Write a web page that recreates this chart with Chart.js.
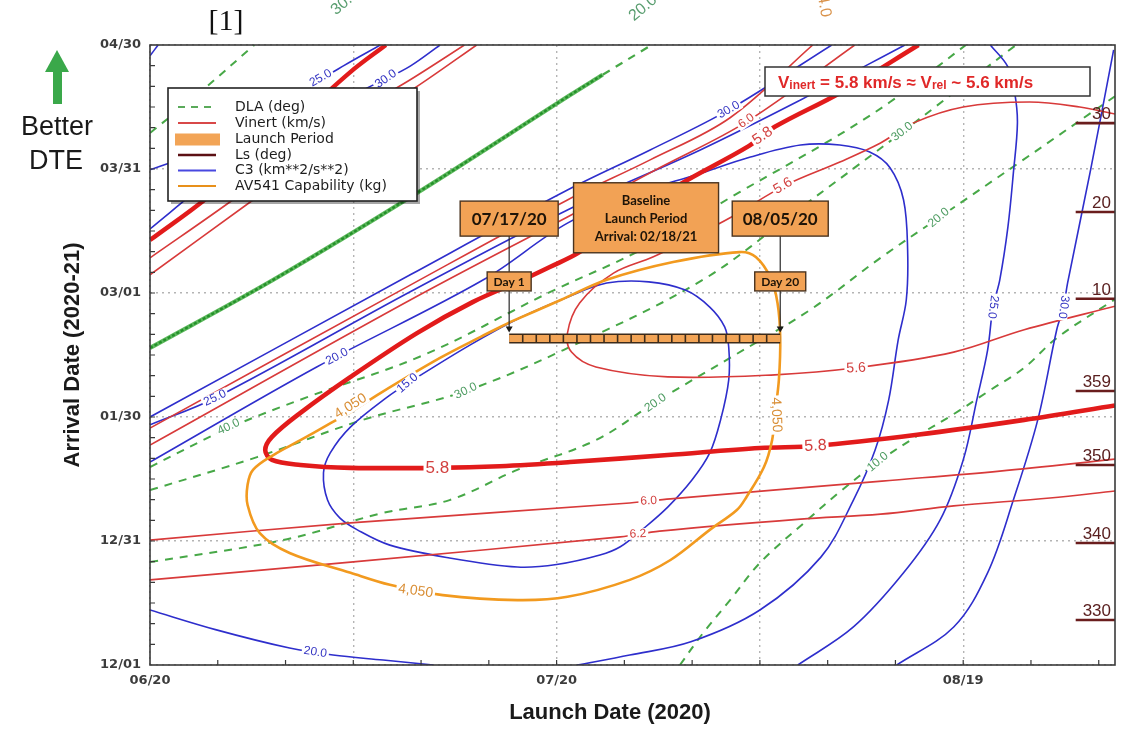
<!DOCTYPE html>
<html>
<head>
<meta charset="utf-8">
<script src="https://cdn.jsdelivr.net/npm/chart.js@4.4.1/dist/chart.umd.min.js"></script>
<style>
  html, body { margin: 0; padding: 0; background: #ffffff; }
  canvas { display: block; }
</style>
</head>
<body>
<canvas id="porkchop" width="1122" height="729"></canvas>
<script>
// ---- axes: launch day counted from 06/20/2020, arrival day counted from 12/01/2020 ----
const xTickDays = [0, 30, 60];
const xTickLabels = ['06/20', '07/20', '08/19'];
const yTickDays = [0, 30, 60, 90, 120, 150];
const yTickLabels = ['12/01', '12/31', '01/30', '03/01', '03/31', '04/30'];

// ---- DLA contours (deg) ----
const dla50 = [[0,128.7],[3.7,138.6],[7.7,150]];
const dlaRidge = [[0,76.7],[9.1,93.2],[19.7,114.2],[31.0,137.9],[33.4,142.8]];
const dlaRidgeTail = [[33.4,142.8],[37.0,150]];
const dla40 = [[0,47.9],[5.8,57.3],[11.6,64.8],[20.2,75.0],[29.5,90.2],[36.2,100.4],[43.5,114.4],[50.2,127.0],[54.6,136.2],[60.2,150]];
const dla30 = [[0,42.3],[7.9,50.3],[15.7,59.3],[23.3,66.3],[30.5,76.2],[40.8,93.2],[48.0,110.6],[55.4,128.7],[63.9,150]];
const dla20 = [[0,24.9],[9.8,30.2],[17.2,36.8],[22.1,39.9],[27.1,47.2],[32.9,54.4],[37.3,63.6],[42.9,74.5],[48.7,85.9],[53.9,98.5],[58.2,108.2],[64.2,121.7],[71.2,137.6]];
const dla10 = [[39.1,0],[40.8,7.7],[42.8,15.7],[45.0,24.7],[48.5,35.1],[50.9,41.9],[53.7,49.1],[56.6,55.4],[59.3,60.7],[61.9,66.3],[64.5,71.9],[66.9,79.1],[71.2,88.5]];

// ---- Vinert contours (km/s) ----
const vinert58 = [[56.7,150],[50.9,138.4],[46.1,130.2],[44.2,125.6],[39.0,116.1],[35.4,108.2],[31.6,99.7],[29.5,96.3],[27.5,93.2],[23.8,87.8],[19.7,80.3],[14.8,69.7],[11.1,61.0],[9.0,55.2],[8.5,52.0],[9.0,49.6],[11.1,48.4],[14.8,47.7],[21.2,47.7],[25.8,48.1],[31.0,49.1],[38.2,50.8],[45.0,52.5],[49.1,53.0],[56.6,55.7],[64.5,59.3],[71.2,62.8]];
const vinert58Upper = [[0,102.8],[4.2,113.0],[9.6,128.2],[14.8,143.5],[17.4,150]];
const vinert56 = [[71.2,133.3],[68.6,135.0],[64.9,136.2],[60.0,135.0],[56.3,131.1],[53.9,126.3],[50.9,121.7],[46.9,116.1],[42.8,108.2],[40.1,103.6],[37.1,98.7],[34.2,94.8],[31.7,87.6],[30.8,80.3],[31.1,75.7],[32.9,72.1],[38.2,69.7],[46.1,70.2],[52.1,71.9],[59.3,75.7],[64.5,81.1],[71.2,86.8]];
const vinert60Band = [[0,53.2],[19.2,88.3],[30.8,108.4],[37.6,120.3],[44.0,131.4],[52.0,150]];
const vinert62Band = [[0,57.3],[19.2,91.9],[30.8,112.5],[36.9,122.2],[42.8,132.4],[48.9,150]];
const vinert60Low = [[0,30.2],[14.8,34.4],[35.4,39.2],[38.4,40.2],[54.0,44.5],[62.7,46.9],[71.2,49.8]];
const vinert62Low = [[0,20.6],[14.8,24.9],[34.7,31.0],[37.6,32.4],[48.0,35.3],[53.9,36.5],[59.3,38.5],[66.4,40.4],[71.2,42.1]];
const vinertUpperA = [[0,98.5],[6.1,112.5],[13.3,130.0],[19.2,141.6],[23.2,150]];
const vinertUpperB = [[0,94.4],[7.6,112.5],[14.8,129.5],[19.9,140.4],[24.1,150]];

// ---- C3 contours (km^2/s^2) ----
const c3Corner = [[0,147.4],[0.6,150]];
const c3Upper30 = [[0,119.8],[1.5,121.5],[7.4,128.2],[13.3,135.5],[17.2,141.5],[19.2,144.9],[21.4,150]];
const c3Upper25 = [[0,105.5],[4.2,117.0],[9.6,133.0],[12.6,141.5],[14.3,145.0],[17.0,150]];
const c3Band30 = [[0,60.0],[19.2,94.4],[30.8,114.9],[36.9,124.6],[42.7,134.3],[50.3,150]];
const c3Band25 = [[0,58.1],[4.8,64.6],[19.2,90.3],[30.8,110.1],[40.6,124.6],[48.0,136.7],[55.7,150]];
const c3Loop20 = [[0,49.1],[12.3,72.1],[24.6,93.2],[30.8,106.9],[36.2,114.4],[40.3,118.6],[44.3,122.9],[48.0,125.8],[50.9,125.8],[53.1,124.1],[54.6,120.3],[55.6,112.5],[55.9,100.4],[55.8,88.3],[55.2,78.6],[54.5,64.1],[53.5,52.0],[51.9,39.9],[49.5,26.1],[45.0,13.3],[39.9,5.6],[35.4,2.4],[31.5,0]];
const c3Low20 = [[0,13.3],[4.9,8.5],[10.3,4.1],[13.5,2.4],[17.2,1.2],[20.9,0]];
const c3Ring15 = [[19.4,69.0],[17.5,64.8],[14.8,57.6],[13.3,51.3],[12.8,46.5],[13.1,39.9],[14.0,35.6],[15.3,32.7],[17.7,29.0],[22.1,25.9],[27.1,23.7],[30.0,24.3],[33.2,26.6],[34.7,28.6],[36.3,32.7],[38.2,38.2],[40.0,44.8],[41.3,51.3],[42.1,59.3],[42.7,69.0],[42.7,76.9],[42.4,81.8],[41.3,86.6],[39.5,90.7],[36.8,92.7],[33.7,92.4],[30.8,89.0],[27.3,84.0],[23.6,77.4],[19.4,69.0]];
const c3Right25 = [[47.8,0],[51.9,9.2],[55.6,22.3],[58.3,35.1],[60.0,49.6],[61.0,64.1],[61.8,76.2],[62.2,86.6],[62.7,93.2],[63.3,106.0],[63.7,119.0],[64.0,131.1],[63.8,138.4],[63.3,144.7],[62.0,150]];
const c3Right30 = [[55.1,0],[59.3,9.2],[61.8,22.3],[63.7,39.9],[65.5,59.3],[66.9,81.1],[67.4,86.6],[67.7,92.4],[69.4,119.8],[71.1,148.8]];

// ---- AV541 capability contour (kg) ----
const av541_4050 = [[26.6,83.0],[30.3,88.3],[33.7,93.2],[38.6,97.5],[43.5,99.9],[44.7,98.7],[45.8,93.6],[46.3,87.6],[46.5,79.4],[46.4,69.0],[46.1,60.5],[45.9,54.4],[45.3,47.9],[44.0,40.6],[43.3,37.5],[41.3,32.7],[38.4,25.4],[35.4,20.6],[30.8,16.5],[27.1,15.7],[21.6,16.9],[17.7,19.4],[14.8,22.3],[10.3,27.1],[8.1,31.9],[7.2,38.7],[7.2,43.6],[7.6,47.2],[9.1,50.8],[11.1,54.4],[13.1,58.1],[14.8,61.2],[17.0,65.8],[21.4,74.3],[24.4,79.4],[26.6,83.0]];

// ---- baseline launch period: 07/17/20 .. 08/05/20, arrival 02/18/21 ----
const launchPeriodDays = [27,28,29,30,31,32,33,34,35,36,37,38,39,40,41,42,43,44,45,46];
const baselineArrivalDay = 79;

// ---- Ls (deg) at arrival ----
const lsLabels = ['330','340','350','359','10','20','30'];
const lsArrivalDays = [10.9, 29.5, 48.4, 66.3, 88.6, 109.6, 131.1];
const lsStubStart = 68.3;

// ---- contour labels ----
const vinertLabels = [
  { t: '5.8', x: 21.2, y: 47.7, r: 0,   s: 17 },
  { t: '5.8', x: 49.1, y: 53.0, r: -3,  s: 16 },
  { t: '5.8', x: 45.2, y: 128.0, r: -35, s: 15 },
  { t: '6.0', x: 44.0, y: 131.6, r: -35, s: 12 },
  { t: '6.0', x: 36.8, y: 39.7, r: -3,  s: 12 },
  { t: '6.2', x: 36.0, y: 31.7, r: -3,  s: 12 },
  { t: '5.6', x: 52.1, y: 71.8, r: -3,  s: 14 },
  { t: '5.6', x: 46.7, y: 115.9, r: -30, s: 14 }
];
const c3Labels = [
  { t: '25.0', x: 12.6, y: 142.0, r: -30 },
  { t: '30.0', x: 17.4, y: 141.8, r: -35 },
  { t: '25.0', x: 4.8,  y: 64.6,  r: -25 },
  { t: '20.0', x: 13.8, y: 74.6,  r: -28 },
  { t: '15.0', x: 19.0, y: 68.2,  r: -40 },
  { t: '30.0', x: 42.7, y: 134.3, r: -30 },
  { t: '20.0', x: 12.2, y: 3.1,   r: 8 },
  { t: '25.0', x: 62.2, y: 86.6,  r: 98 },
  { t: '30.0', x: 67.4, y: 86.6,  r: 98 }
];
const dlaLabels = [
  { t: '40.0', x: 5.8,  y: 57.6,  r: -25 },
  { t: '30.0', x: 23.3, y: 66.3,  r: -25 },
  { t: '20.0', x: 37.3, y: 63.4,  r: -35 },
  { t: '20.0', x: 58.2, y: 108.2, r: -40 },
  { t: '30.0', x: 55.5, y: 129.0, r: -38 },
  { t: '10.0', x: 53.7, y: 49.1,  r: -40 }
];
const av541Labels = [
  { t: '4,050', x: 14.8, y: 62.6, r: -32 },
  { t: '4,050', x: 46.2, y: 60.5, r: 88 },
  { t: '4,050', x: 19.6, y: 17.9, r: 8 }
];

// ---- callouts anchored on the launch window ----
const callouts = [
  { lines: ['07/17/20'], x: 26.5, y: 108.0, w: 98, h: 35, size: 17 },
  { lines: ['Baseline', 'Launch Period', 'Arrival: 02/18/21'], x: 36.6, y: 108.2, w: 145, h: 70, size: 13 },
  { lines: ['08/05/20'], x: 46.5, y: 108.0, w: 96, h: 35, size: 17 },
  { lines: ['Day 1'], x: 26.5, y: 92.8, w: 44, h: 19, size: 12 },
  { lines: ['Day 20'], x: 46.5, y: 92.8, w: 51, h: 19, size: 12 }
];

// ---- colours ----
const BLUE = '#2e2ecc', RED = '#d83a3a', THICK = '#e21b1b', GREEN = '#47a847',
      ORANGE = '#f29a1f', LSC = '#6a1d1d', BAR = '#f2a456', BAR_EDGE = '#3d2b1a';

const datasets = [];
function addLine(pts, color, width, order, extra) {
  datasets.push(Object.assign({
    data: pts.map(p => ({ x: p[0], y: p[1] })),
    showLine: true, borderColor: color, backgroundColor: color,
    borderWidth: width, pointRadius: 0, tension: 0.35, clip: 0, order: order
  }, extra || {}));
}

// launch period bar (drawn on top)
const barEnds = [[launchPeriodDays[0] - 0.5, baselineArrivalDay], [launchPeriodDays[launchPeriodDays.length - 1] + 0.5, baselineArrivalDay]];
datasets.push({
  data: launchPeriodDays.slice(1).map(d => ({ x: d - 0.5, y: baselineArrivalDay })),
  showLine: false, pointStyle: 'line', rotation: 90, pointRadius: 4,
  pointBorderColor: BAR_EDGE, pointBorderWidth: 1.6, order: 0, clip: 0
});
addLine(barEnds, BAR, 7, 1, { tension: 0, borderCapStyle: 'butt' });
addLine(barEnds, BAR_EDGE, 10, 2, { tension: 0, borderCapStyle: 'butt' });

// Ls stubs on the right edge
lsArrivalDays.forEach(d => addLine([[lsStubStart, d], [71.2, d]], LSC, 2.6, 3, { tension: 0 }));

// AV541
addLine(av541_4050, ORANGE, 2.6, 5);

// Vinert
addLine(vinert58, THICK, 4.6, 6);
addLine(vinert58Upper, THICK, 4.4, 7);
addLine(vinert56, RED, 1.6, 8);
addLine(vinert60Band, RED, 1.6, 8);
addLine(vinert62Band, RED, 1.6, 8);
addLine(vinert60Low, RED, 1.7, 8);
addLine(vinert62Low, RED, 1.7, 8);
addLine(vinertUpperA, RED, 1.6, 8);
addLine(vinertUpperB, RED, 1.6, 8);

// C3
addLine(c3Upper25, BLUE, 1.6, 6);
addLine(c3Corner, BLUE, 1.6, 9);
addLine(c3Upper30, BLUE, 1.6, 9);
addLine(c3Band30, BLUE, 1.6, 9);
addLine(c3Band25, BLUE, 1.6, 9);
addLine(c3Loop20, BLUE, 1.6, 9);
addLine(c3Low20, BLUE, 1.6, 9);
addLine(c3Ring15, BLUE, 1.6, 9);
addLine(c3Right25, BLUE, 1.6, 9);
addLine(c3Right30, BLUE, 1.6, 9);

// DLA
const dash = { borderDash: [8, 7] };
addLine(dla50, GREEN, 2, 10, dash);
addLine(dlaRidge, '#5cb85c', 4.2, 11);
addLine(dlaRidge, '#24902a', 2.4, 10, { borderDash: [3, 2] });
addLine(dlaRidgeTail, GREEN, 2.2, 10, dash);
addLine(dla40, GREEN, 2, 10, dash);
addLine(dla30, GREEN, 2, 10, dash);
addLine(dla20, GREEN, 2, 10, dash);
addLine(dla10, GREEN, 2, 10, dash);

function labelText(ctx, x, y, text, deg, size, color, weight) {
  ctx.save();
  ctx.translate(x, y);
  ctx.rotate(deg * Math.PI / 180);
  ctx.font = (weight || '') + ' ' + size + 'px "Liberation Sans", Arial, sans-serif';
  const w = ctx.measureText(text).width;
  ctx.fillStyle = '#ffffff';
  ctx.fillRect(-w / 2 - 2, -size * 0.45, w + 4, size * 0.9);
  ctx.fillStyle = color;
  ctx.textAlign = 'center';
  ctx.textBaseline = 'middle';
  ctx.fillText(text, 0, 0);
  ctx.restore();
}

const decor = {
  id: 'decor',
  afterDatasetsDraw(chart) {
    const ctx = chart.ctx, xs = chart.scales.x, ys = chart.scales.y, area = chart.chartArea;
    const px = v => xs.getPixelForValue(v), py = v => ys.getPixelForValue(v);

    // contour labels
    vinertLabels.forEach(l => labelText(ctx, px(l.x), py(l.y), l.t, l.r, l.s, '#d2403f'));
    c3Labels.forEach(l => labelText(ctx, px(l.x), py(l.y), l.t, l.r, 12, '#3333c2'));
    dlaLabels.forEach(l => labelText(ctx, px(l.x), py(l.y), l.t, l.r, 12, '#4e9c62'));
    av541Labels.forEach(l => labelText(ctx, px(l.x), py(l.y), l.t, l.r, 14, '#d98e35'));

    // connectors from the date boxes to the ends of the launch bar
    const barTop = py(baselineArrivalDay) - 6;
    [barEnds[0][0], barEnds[1][0]].forEach((d, i) => {
      const c = callouts[i === 0 ? 0 : 2];
      const x = px(d), y0 = py(c.y) + c.h / 2;
      ctx.save();
      ctx.strokeStyle = '#2a2a2a'; ctx.lineWidth = 1.2;
      ctx.beginPath(); ctx.moveTo(x, y0); ctx.lineTo(x, barTop - 4); ctx.stroke();
      ctx.fillStyle = '#1a1a1a';
      ctx.beginPath(); ctx.moveTo(x - 3.5, barTop - 6); ctx.lineTo(x + 3.5, barTop - 6); ctx.lineTo(x, barTop); ctx.closePath(); ctx.fill();
      ctx.restore();
    });

    // callout boxes
    callouts.forEach(c => {
      const cx = px(c.x), cy = py(c.y);
      ctx.save();
      ctx.fillStyle = '#f2a255';
      ctx.strokeStyle = '#4a3420'; ctx.lineWidth = 1.4;
      ctx.fillRect(cx - c.w / 2, cy - c.h / 2, c.w, c.h);
      ctx.strokeRect(cx - c.w / 2, cy - c.h / 2, c.w, c.h);
      ctx.fillStyle = '#1e1408';
      ctx.font = 'bold ' + c.size + 'px Lato, "Open Sans", sans-serif';
      ctx.textAlign = 'center'; ctx.textBaseline = 'middle';
      const lh = c.size * 1.4;
      c.lines.forEach((t, k) => ctx.fillText(t, cx, cy + (k - (c.lines.length - 1) / 2) * lh + 1));
      ctx.restore();
    });

    // Ls labels above the stubs
    ctx.save();
    ctx.font = '17px "Liberation Sans", Arial, sans-serif';
    ctx.fillStyle = '#5a2020';
    ctx.textAlign = 'right'; ctx.textBaseline = 'alphabetic';
    lsArrivalDays.forEach((d, i) => ctx.fillText(lsLabels[i], area.right - 4, py(d) - 4));
    ctx.restore();

    // Vinert note box
    ctx.save();
    const bx = area.left + 615, by = area.top + 22, bw = 325, bh = 29;
    ctx.fillStyle = '#ffffff'; ctx.fillRect(bx, by, bw, bh);
    ctx.strokeStyle = '#333333'; ctx.lineWidth = 1.5; ctx.strokeRect(bx, by, bw, bh);
    ctx.fillStyle = '#e02828'; ctx.textBaseline = 'alphabetic';
    let tx = bx + 13;
    const ty = by + 21;
    [['V', 17, 0], ['inert', 12, 1], [' = 5.8 km/s \u2248 V', 17, 0], ['rel', 12, 1], [' ~ 5.6 km/s', 17, 0]].forEach(p => {
      ctx.font = 'bold ' + p[1] + 'px "Liberation Sans", Arial, sans-serif';
      ctx.fillText(p[0], tx, ty + p[2]);
      tx += ctx.measureText(p[0]).width;
    });
    ctx.restore();

    // legend
    ctx.save();
    const lx = 168, ly = 88, lw = 249, lh = 113;
    ctx.fillStyle = 'rgba(0,0,0,0.35)';
    ctx.fillRect(lx + 3, ly + 3, lw, lh);
    ctx.fillStyle = '#ffffff'; ctx.fillRect(lx, ly, lw, lh);
    ctx.strokeStyle = '#222222'; ctx.lineWidth = 1.6; ctx.strokeRect(lx, ly, lw, lh);
    const rows = [
      ['DLA (deg)', '#5aaa5a', 1.8, [7, 6]],
      ['Vinert (km/s)', '#d84848', 1.8, []],
      ['Launch Period', null, 0, []],
      ['Ls (deg)', '#5c1014', 2.6, []],
      ['C3 (km**2/s**2)', '#4848e0', 1.8, []],
      ['AV541 Capability (kg)', '#e8901a', 2.2, []]
    ];
    const rowY = [107, 123, 139.5, 155, 170.5, 186];
    rows.forEach((r, i) => {
      const y = rowY[i];
      if (r[1]) {
        ctx.strokeStyle = r[1]; ctx.lineWidth = r[2]; ctx.setLineDash(r[3]);
        ctx.beginPath(); ctx.moveTo(178, y); ctx.lineTo(216, y); ctx.stroke();
        ctx.setLineDash([]);
      } else {
        ctx.fillStyle = BAR; ctx.fillRect(175, y - 6, 45, 12);
      }
      ctx.fillStyle = '#1e1e1e';
      ctx.font = '14px "DejaVu Sans", sans-serif';
      ctx.textAlign = 'left'; ctx.textBaseline = 'middle';
      ctx.fillText(r[0], 235, y);
    });
    ctx.restore();

    // plot frame and inward ticks
    ctx.save();
    ctx.strokeStyle = '#3a3a3a'; ctx.lineWidth = 1.6;
    ctx.strokeRect(area.left, area.top, area.right - area.left, area.bottom - area.top);
    ctx.lineWidth = 1.2;
    ctx.beginPath();
    for (let d = 5; d < 71; d += 5) { const x = px(d); ctx.moveTo(x, area.bottom); ctx.lineTo(x, area.bottom - 5); }
    for (let d = 5; d < 150; d += 5) { const y = py(d); ctx.moveTo(area.left, y); ctx.lineTo(area.left + 5, y); }
    ctx.stroke();
    ctx.restore();
  },
  afterDraw(chart) {
    const ctx = chart.ctx;
    ctx.save();
    ctx.fillStyle = '#1a1a1a';
    ctx.textAlign = 'center'; ctx.textBaseline = 'middle';
    ctx.font = 'bold 22px "Liberation Sans", Arial, sans-serif';
    ctx.fillText('Launch Date (2020)', 610, 713);
    ctx.save();
    ctx.translate(73, 355); ctx.rotate(-Math.PI / 2);
    ctx.fillText('Arrival Date (2020-21)', 0, 0);
    ctx.restore();

    ctx.font = '27px "Liberation Sans", Arial, sans-serif';
    ctx.fillText('Better', 57, 128);
    ctx.fillText('DTE', 56, 162);

    ctx.fillStyle = '#3aa84a';
    ctx.beginPath(); ctx.moveTo(45, 72); ctx.lineTo(57, 50); ctx.lineTo(69, 72); ctx.closePath(); ctx.fill();
    ctx.fillRect(53, 70, 9, 34);

    ctx.fillStyle = '#111111';
    ctx.font = '30px "Liberation Serif", "Times New Roman", serif';
    ctx.fillText('[1]', 226, 22);

    // cut-off contour labels of the panel above
    const frag = (t, x, y, deg, color) => {
      ctx.save(); ctx.translate(x, y); ctx.rotate(deg * Math.PI / 180);
      ctx.fillStyle = color; ctx.font = '16px "Liberation Sans", Arial, sans-serif';
      ctx.fillText(t, 0, 0); ctx.restore();
    };
    frag('30.0', 345, 2, -40, '#5a9e70');
    frag('20.0', 643, 8, -40, '#5a9e70');
    frag('4.0', 824, 6, 80, '#d9924a');
    ctx.restore();
  }
};

const tickFont = { family: '"DejaVu Sans", sans-serif', size: 13, weight: 'bold' };

new Chart(document.getElementById('porkchop'), {
  type: 'scatter',
  data: { datasets: datasets },
  options: {
    responsive: false,
    animation: false,
    devicePixelRatio: 1,
    layout: { padding: { top: 45, right: 7, left: 0, bottom: 0 } },
    plugins: { legend: { display: false }, tooltip: { enabled: false } },
    scales: {
      x: {
        type: 'linear', min: 0, max: 71.2,
        afterFit: s => { s.height = 64; },
        ticks: {
          stepSize: 15, includeBounds: false, autoSkip: false, maxRotation: 0,
          padding: 8, font: tickFont, color: '#3c3c3c',
          callback: v => { const i = xTickDays.indexOf(v); return i >= 0 ? xTickLabels[i] : ''; }
        },
        grid: { color: '#b4b4b4', lineWidth: 1.4, drawTicks: false },
        border: { display: false, dash: [2, 4] }
      },
      y: {
        type: 'linear', min: 0, max: 150,
        afterFit: s => { s.width = 150; },
        ticks: {
          stepSize: 30, autoSkip: false, padding: 9, font: tickFont, color: '#3c3c3c',
          callback: v => { const i = yTickDays.indexOf(v); return i >= 0 ? yTickLabels[i] : ''; }
        },
        grid: { color: '#b4b4b4', lineWidth: 1.4, drawTicks: false },
        border: { display: false, dash: [2, 4] }
      }
    }
  },
  plugins: [decor]
});
</script>
</body>
</html>
